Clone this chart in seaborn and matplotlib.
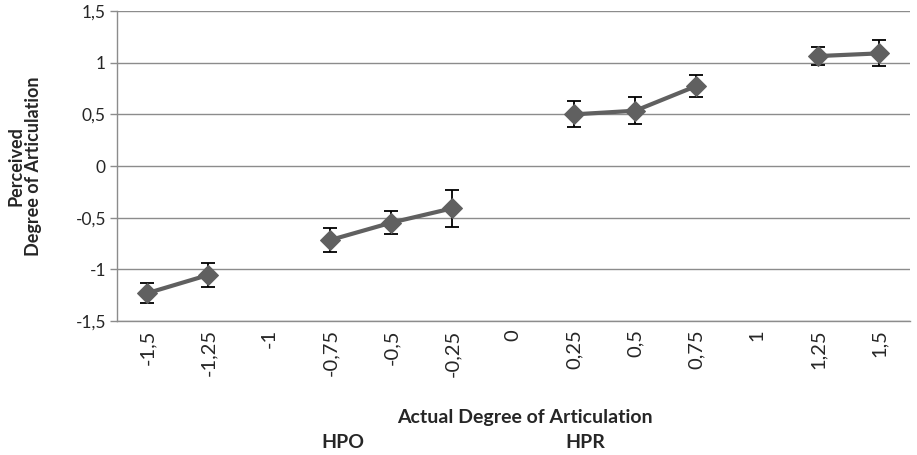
import numpy as np
import pandas as pd
import matplotlib
matplotlib.use("Agg")
import matplotlib.pyplot as plt
import seaborn as sns

categories = ["-1,5", "-1,25", "-1", "-0,75", "-0,5", "-0,25", "0",
              "0,25", "0,5", "0,75", "1", "1,25", "1,5"]
means = [-1.23, -1.054, np.nan, -0.716, -0.548, -0.409, np.nan,
         0.50, 0.535, 0.774, np.nan, 1.064, 1.09]
errors = [0.093, 0.113, np.nan, 0.116, 0.11, 0.178, np.nan,
          0.126, 0.128, 0.105, np.nan, 0.085, 0.127]
groups = [1, 1, 0, 2, 2, 2, 0, 3, 3, 3, 0, 4, 4]
y_ticks = [-1.5, -1, -0.5, 0, 0.5, 1, 1.5]
y_tick_labels = ["-1,5", "-1", "-0,5", "0", "0,5", "1", "1,5"]

df = pd.DataFrame({"pos": np.arange(len(categories)), "cat": categories,
                   "mean": means, "err": errors, "group": groups})
df = df.dropna()

sns.set_style("white")
plt.rcParams["font.family"] = ["Lato", "DejaVu Sans"]

fig = plt.figure(figsize=(9.17, 4.55), dpi=100)
ax = fig.add_axes([0.1276, 0.2945, 0.8644, 0.6813])

line_col = "#606060"
grid_col = "#8c8c8c"

for y in y_ticks:
    ax.axhline(y, color=grid_col, lw=1.0, zorder=0)

ax.errorbar(df["pos"], df["mean"], yerr=df["err"], fmt="none",
            ecolor="black", elinewidth=1.3, capsize=5, capthick=1.3, zorder=3)

sns.lineplot(data=df, x="pos", y="mean", units="group", estimator=None,
             color=line_col, lw=3, marker="D", markersize=10,
             markeredgecolor=line_col, ax=ax, zorder=4, legend=False)

ax.set_xlim(-0.5, len(categories) - 0.5)
ax.set_ylim(-1.5, 1.5)
ax.set_yticks(y_ticks)
ax.set_yticklabels(y_tick_labels, fontsize=12.5)
ax.set_xticks(np.arange(len(categories)))
ax.set_xticklabels(categories, rotation=90, fontsize=14.5)
ax.set_xticks(np.arange(len(categories) + 1) - 0.5, minor=True)
ax.tick_params(axis="x", which="major", length=0, pad=6)
ax.tick_params(axis="x", which="minor", length=6, color=grid_col, width=1)
ax.tick_params(axis="y", length=5, color=grid_col, width=1, left=True, pad=3)

for s in ["top", "right"]:
    ax.spines[s].set_visible(False)
for s in ["left", "bottom"]:
    ax.spines[s].set_color(grid_col)
    ax.spines[s].set_linewidth(1.0)

ax.set_xlabel("")
ax.set_ylabel("")
fig.text(525 / 917, 1 - 417 / 455, "Actual Degree of Articulation",
         ha="center", va="center", fontsize=14, fontweight="bold")
fig.text(343 / 917, 1 - 442 / 455, "HPO", ha="center", va="center",
         fontsize=14, fontweight="bold")
fig.text(585 / 917, 1 - 442 / 455, "HPR", ha="center", va="center",
         fontsize=14, fontweight="bold")
fig.text(25 / 917, 1 - 166 / 455, "Perceived\nDegree of Articulation",
         ha="center", va="center", rotation=90, fontsize=13,
         fontweight="bold", linespacing=1.0)

fig.savefig("out.png", dpi=100)
